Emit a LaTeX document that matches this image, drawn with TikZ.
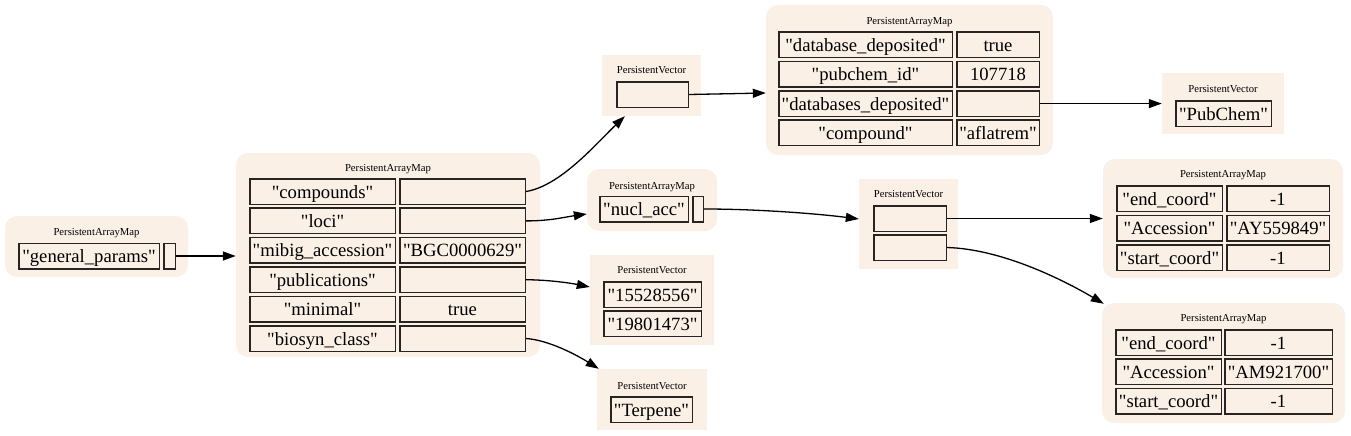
\documentclass[tikz,border=0pt]{standalone}
\usepackage{fontspec}
\setmainfont{Liberation Serif}[Ligatures=TeXOff]
\usetikzlibrary{arrows.meta,calc}
\definecolor{linen}{RGB}{250,240,230}
\definecolor{cellc}{RGB}{40,36,34}
\newcommand{\cellfont}{\fontsize{18.67}{22}\selectfont}
\newcommand{\ttlfont}{\fontsize{10.67}{12}\selectfont}
\begin{document}
\begin{tikzpicture}[x=1pt,y=-1pt,
  mapcl/.style={fill=linen, draw=none, rounded corners=12pt, inner sep=0pt, minimum width=#1},
  veccl/.style={fill=linen, draw=none, inner sep=0pt, minimum width=#1},
  cell/.style={draw=cellc, line width=1.5pt, inner sep=0pt, font=\cellfont,
    text height=15pt, text depth=2pt, minimum height=25.5pt, minimum width=#1-1.5pt},
  ttl/.style={font=\ttlfont, inner sep=0pt, anchor=base},
  edge/.style={line width=1.3pt, -{Triangle[length=13pt,width=9pt]}}]
\useasboundingbox[fill=white] (0,0) rectangle (1351,436);

% ---------- general_params map ----------
\node[mapcl=183pt, minimum height=61pt] (gp) at (96.5,246.5) {};
\node[ttl] (gpt) at (96.5,235.5) {PersistentArrayMap};
\node[cell=142pt] (gpk) at (89,256) {"general\_params"};
\node[cell=13pt] (gpv) at (169.5,256) {};

% ---------- main map ----------
\node[mapcl=304pt, minimum height=204pt] (mm) at (388,255) {};
\node[ttl] (mmt) at (388,171.5) {PersistentArrayMap};
\node[cell=147pt] (mk1) at (322.5,191.5) {"compounds"};
\node[cell=127pt] (mv1) at (462.5,191.5) {};
\node[cell=147pt] (mk2) at (322.5,220.9) {"loci"};
\node[cell=127pt] (mv2) at (462.5,220.9) {};
\node[cell=147pt] (mk3) at (322.5,250.3) {"mibig\_accession"};
\node[cell=127pt] (mv3) at (462.5,250.3) {"BGC0000629"};
\node[cell=147pt] (mk4) at (322.5,279.7) {"publications"};
\node[cell=127pt] (mv4) at (462.5,279.7) {};
\node[cell=147pt] (mk5) at (322.5,309.1) {"minimal"};
\node[cell=127pt] (mv5) at (462.5,309.1) {true};
\node[cell=147pt] (mk6) at (322.5,338.5) {"biosyn\_class"};
\node[cell=127pt] (mv6) at (462.5,338.5) {};

% ---------- compounds vector ----------
\node[veccl=99pt, minimum height=61pt] (cv) at (651.5,85.5) {};
\node[ttl] (cvt) at (651.5,74) {PersistentVector};
\node[cell=73pt] (cv1) at (652.5,94.5) {};

% ---------- compound map ----------
\node[mapcl=287pt, minimum height=150pt] (cm) at (909.5,80) {};
\node[ttl] (cmt) at (909.5,25) {PersistentArrayMap};
\node[cell=175pt] (ck1) at (865.5,45) {"database\_deposited"};
\node[cell=84pt] (cw1) at (998,45) {true};
\node[cell=175pt] (ck2) at (865.5,74.3) {"pubchem\_id"};
\node[cell=84pt] (cw2) at (998,74.3) {107718};
\node[cell=175pt] (ck3) at (865.5,103.6) {"databases\_deposited"};
\node[cell=84pt] (cw3) at (998,103.6) {};
\node[cell=175pt] (ck4) at (865.5,132.9) {"compound"};
\node[cell=84pt] (cw4) at (998,132.9) {"aflatrem"};

% ---------- PubChem vector ----------
\node[veccl=122pt, minimum height=61pt] (pv) at (1223,103.5) {};
\node[ttl] (pvt) at (1223,92.7) {PersistentVector};
\node[cell=97pt] (pv1) at (1223.5,113.5) {"PubChem"};

% ---------- nucl_acc map ----------
\node[mapcl=130pt, minimum height=62pt] (nm) at (652,200) {};
\node[ttl] (nmt) at (652,189) {PersistentArrayMap};
\node[cell=90pt] (nk) at (644,209) {"nucl\_acc"};
\node[cell=12pt] (nv) at (698,209) {};

% ---------- loci vector ----------
\node[veccl=99pt, minimum height=90pt] (lv) at (908.5,224) {};
\node[ttl] (lvt) at (908.5,197) {PersistentVector};
\node[cell=74pt] (lv1) at (910,218.5) {};
\node[cell=74pt] (lv2) at (910,247.5) {};

% ---------- loci map 1 ----------
\node[mapcl=240pt, minimum height=119pt] (la) at (1223,218.5) {};
\node[ttl] (lat) at (1223,177) {PersistentArrayMap};
\node[cell=107pt] (lak1) at (1169.5,198.5) {"end\_coord"};
\node[cell=104pt] (lav1) at (1278,198.5) {-1};
\node[cell=107pt] (lak2) at (1169.5,228) {"Accession"};
\node[cell=104pt] (lav2) at (1278,228) {"AY559849"};
\node[cell=107pt] (lak3) at (1169.5,257.5) {"start\_coord"};
\node[cell=104pt] (lav3) at (1278,257.5) {-1};

% ---------- loci map 2 ----------
\node[mapcl=243pt, minimum height=120pt] (lb) at (1223.5,363) {};
\node[ttl] (lbt) at (1223.5,321.7) {PersistentArrayMap};
\node[cell=107pt] (lbk1) at (1168.5,342.5) {"end\_coord"};
\node[cell=109pt] (lbv1) at (1278.5,342.5) {-1};
\node[cell=107pt] (lbk2) at (1168.5,371.5) {"Accession"};
\node[cell=109pt] (lbv2) at (1278.5,371.5) {"AM921700"};
\node[cell=107pt] (lbk3) at (1168.5,401) {"start\_coord"};
\node[cell=109pt] (lbv3) at (1278.5,401) {-1};

% ---------- publications vector ----------
\node[veccl=124pt, minimum height=90pt] (pb) at (652,300) {};
\node[ttl] (pbt) at (652,273) {PersistentVector};
\node[cell=99pt] (pb1) at (652.5,294.5) {"15528556"};
\node[cell=99pt] (pb2) at (652.5,323.5) {"19801473"};

% ---------- terpene vector ----------
\node[veccl=110pt, minimum height=61pt] (tv) at (652,399.5) {};
\node[ttl] (tvt) at (652,389) {PersistentVector};
\node[cell=83pt] (tv1) at (651.5,409.5) {"Terpene"};

% ---------- edges ----------
\draw[edge] (gpv.east) -- (gpv.east -| mm.west);
\draw[edge] (mv1.east) .. controls (560,186) and (595,145) .. ($(cv.south west)+(23,0)$);
\draw[edge] (mv2.east) .. controls (550,221) and (565,217) .. ($(nm.west)+(0,14)$);
\draw[edge] (mv4.east) .. controls (550,280) and (570,283) .. ($(pb.west)+(0,-13)$);
\draw[edge] (mv6.east) .. controls (548,340) and (575,354) .. ($(tv.north west)+(2,0)$);
\draw[edge] (cv1.east) -- ($(cm.west)+(0,13)$);
\draw[edge] (cw3.east) -- (cw3.east -| pv.west);
\draw[edge] (nv.east) .. controls (760,209) and (820,214) .. ($(lv.west)+(0,-5)$);
\draw[edge] (lv1.east) -- (lv1.east -| la.west);
\draw[edge] (lv2.east) .. controls (1000,249) and (1060,278) .. ($(lb.north west)+(2,1)$);
\end{tikzpicture}
\end{document}
